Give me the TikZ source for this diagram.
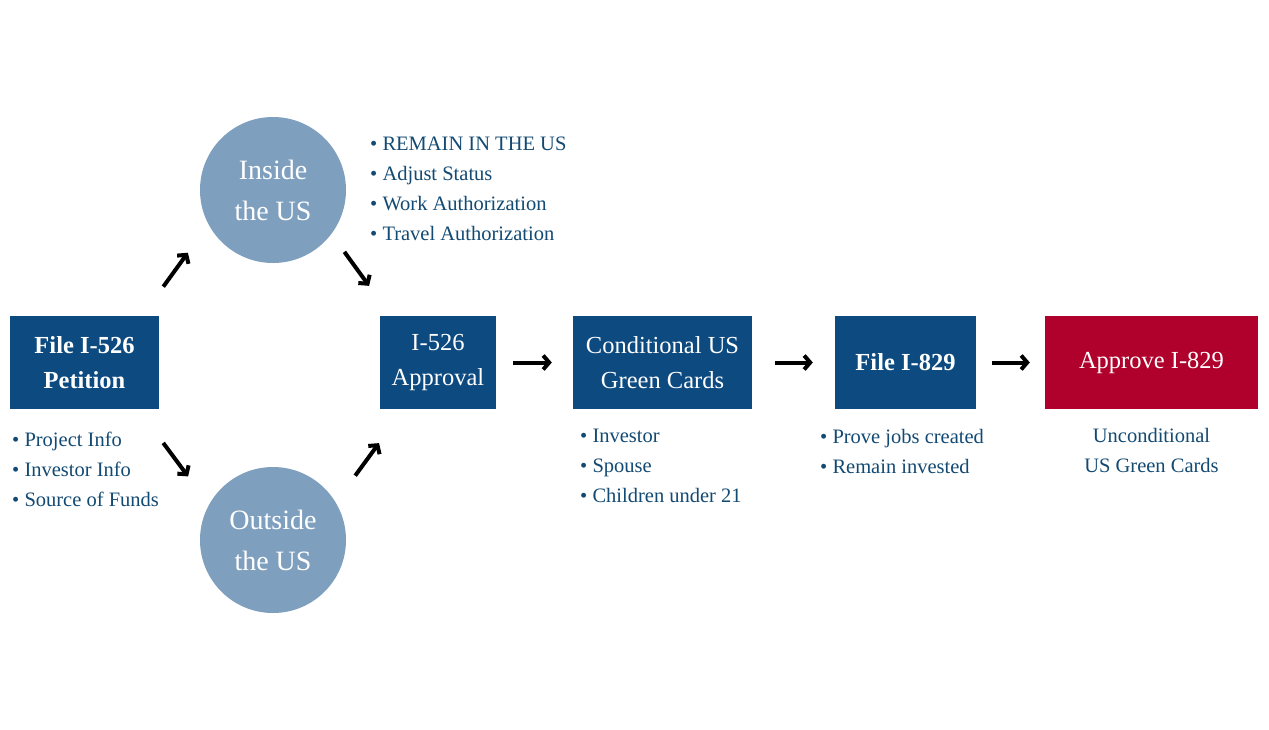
\documentclass[tikz,border=0pt]{standalone}
\usepackage{fontspec}
\setmainfont{Liberation Serif}
\usetikzlibrary{arrows.meta}
\definecolor{boxblue}{HTML}{0D4A80}
\definecolor{roundblue}{HTML}{7F9FBF}
\definecolor{boxred}{HTML}{B0002C}
\definecolor{noteblue}{HTML}{134A73}
\begin{document}
\begin{tikzpicture}
  [x=1pt,y=-1pt,
   every node/.style={inner sep=0pt},
   stepbox/.style={rectangle,fill=boxblue,text=white,align=center,minimum height=93pt,font=\fontsize{24.5}{35}\selectfont},
   round/.style={circle,fill=roundblue,text=white,align=center,minimum size=146pt,font=\fontsize{28}{41}\selectfont},
   notes/.style={anchor=north west,align=left,text=noteblue,font=\fontsize{20.5}{30}\selectfont},
   arr/.style={line width=4pt,black,-{Straight Barb[length=6pt,width=14pt]}}]
\useasboundingbox[fill=white] (0,0) rectangle (1269,729);

\node (file)[stepbox,minimum width=149pt,font=\fontsize{24.5}{35}\selectfont\bfseries] at (84.5,362.5) {File I-526\\Petition};
  \node (inside)[round] at (273,190) {Inside\\the US};
  \node (outside)[round] at (273,540) {Outside\\the US};
  \node (approval)[stepbox,minimum width=116pt] at (438,362.5) {I-526\\Approval};
  \node (cond)[stepbox,minimum width=179pt] at (662.5,362.5) {Conditional US\\Green Cards};
  \node (file829)[stepbox,minimum width=141pt,font=\fontsize{24.5}{35}\selectfont\bfseries] at (905.5,362.5) {File I-829};
  \node (approve)[stepbox,fill=boxred,minimum width=213pt] at (1151.5,362.5) {Approve I-829};

\node (insidenotes)[notes] at (370,137) {\textbullet\ REMAIN IN THE US\\\textbullet\ Adjust Status\\\textbullet\ Work Authorization\\\textbullet\ Travel Authorization};
  \node (filenotes)[notes] at (12,432) {\textbullet\ Project Info\\\textbullet\ Investor Info\\\textbullet\ Source of Funds};
  \node (condnotes)[notes] at (580,429) {\textbullet\ Investor\\\textbullet\ Spouse\\\textbullet\ Children under 21};
  \node (notes829)[notes] at (820,429) {\textbullet\ Prove jobs created\\\textbullet\ Remain invested};
  \node (approvenotes)[notes,anchor=north,align=center] at (1151.5,428) {Unconditional\\US Green Cards};

 \path [arr] ([xshift=-17pt]file.north east) edge [shorten <=36pt,shorten >=35pt] (inside.208);
 \path [arr] (inside.323) edge [shorten <=22pt,shorten >=37pt] ([xshift=11pt]approval.north west);
 \path [arr] ([xshift=-21pt]file.south east) edge [shorten <=42pt,shorten >=35pt] (outside.151);
 \path [arr] (outside.31) edge [shorten <=33pt,shorten >=42pt] ([xshift=24pt]approval.south west);

 \path [arr] (approval) edge [shorten <=17pt,shorten >=21pt] (cond);
 \path [arr] (cond) edge [shorten <=23pt,shorten >=22pt] (file829);
 \path [arr] (file829) edge [shorten <=16pt,shorten >=15pt] (approve);
;
\end{tikzpicture}
\end{document}
